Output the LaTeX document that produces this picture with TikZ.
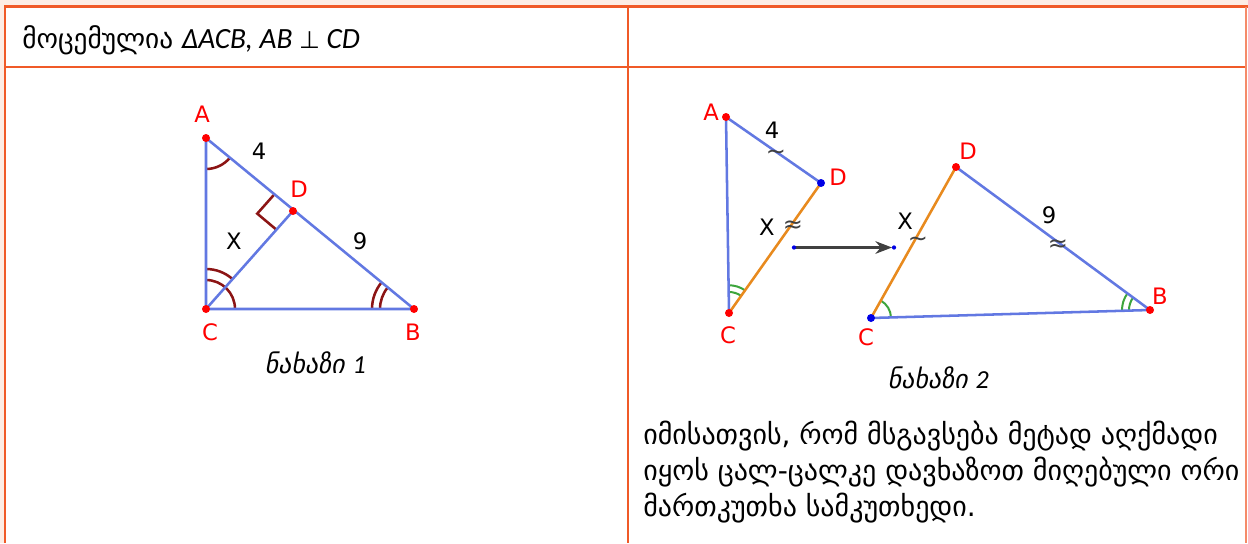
\documentclass[tikz,border=0pt]{standalone}
\usepackage{fontspec}
\setmainfont{DejaVu Sans}
\newfontfamily\latinfont{Carlito}
\newfontfamily\geoslant[FakeSlant=0.2]{DejaVu Sans}
\usetikzlibrary{angles,arrows.meta,calc}
\definecolor{framecol}{RGB}{240,90,40}
\definecolor{pinkbg}{RGB}{253,237,229}
\definecolor{segblue}{RGB}{98,120,226}
\definecolor{segorange}{RGB}{232,138,30}
\definecolor{markred}{RGB}{140,20,20}
\definecolor{markgreen}{RGB}{60,165,60}
\definecolor{arrowgray}{RGB}{64,64,64}
\definecolor{dotblue}{RGB}{0,0,230}
\begin{document}
\begin{tikzpicture}[x=0.75pt,y=-0.75pt,
  seg/.style={draw=segblue,line width=1.9pt},
  segx/.style={draw=segorange,line width=1.9pt},
  redmark/.style={draw=markred,line width=1.9pt},
  greenmark/.style={draw=markgreen,line width=1.5pt},
  ptname/.style={text=red,font=\fontsize{17}{20}\selectfont},
  lenname/.style={inner sep=0pt,font=\fontsize{17}{20}\selectfont},
  simsign/.style={inner sep=0pt,text=arrowgray,font=\fontsize{18}{20}\selectfont},
  figcap/.style={font=\geoslant\fontsize{19.5}{23}\selectfont},
  bodytext/.style={anchor=base west,inner sep=0pt,font=\fontsize{21}{25}\selectfont},
]
% page and table frame
\fill[white] (0,0) rectangle (1248,543);
\fill[pinkbg] (0,0) rectangle (1248,5.5);
\fill[pinkbg] (0,0) rectangle (3.5,543);
\useasboundingbox (0,0) rectangle (1248,543);
\draw[framecol,line width=2pt] (5,543) -- (5,6.5) -- (1248,6.5);
\draw[framecol,line width=2pt] (5,67) -- (1246,67);
\draw[framecol,line width=2.2pt] (628,6.5) -- (628,543);
\draw[framecol!70,line width=1pt] (1246,6.5) -- (1246,543);

\node[bodytext,font=\fontsize{20.5}{24}\selectfont] (given) at (22,48) {მოცემულია {\latinfont\fontsize{22}{26}\selectfont\itshape ΔACB, AB }{\fontsize{18}{22}\selectfont ⊥}{\latinfont\fontsize{22}{26}\selectfont\itshape{} CD}};

% figure 1
\coordinate (A) at (206,138);
\coordinate (C) at (206,309);
\coordinate (B) at (414,309);
\coordinate (D) at (293,211);
\pic[redmark,angle radius=23.25pt] {angle=C--A--B};
\pic[redmark,angle radius=21.75pt] {angle=B--C--A};
\pic[redmark,angle radius=30pt] {angle=D--C--A};
\pic[redmark,angle radius=25.5pt] {angle=A--B--C};
\pic[redmark,angle radius=31.5pt] {angle=A--B--C};
\coordinate (Da) at ($(D)!18.75pt!(A)$);
\coordinate (Dc) at ($(D)!18.75pt!(C)$);
\draw[redmark] (Da) -- ($(Da)+(Dc)-(D)$) -- (Dc);
\draw[seg] (A) -- (B) -- (C) -- cycle;
\draw[seg] (C) -- (D);
\foreach \p in {A,B,C,D} \fill[red] (\p) circle (3pt);
\node[ptname] (labA) at (202,114) {A};
\node[ptname] (labD) at (299,189) {D};
\node[ptname] (labC) at (210,332) {C};
\node[ptname] (labB) at (413,332) {B};
\node[lenname] (len4) at (259,151) {4};
\node[lenname] (len9) at (360,241) {9};
\node[lenname] (lenX) at (234,241) {X};
\node[figcap] (cap1) at (315,363) {ნახაზი {\latinfont\itshape 1}};

% figure 2, left triangle
\coordinate (A2) at (726,117);
\coordinate (D2) at (821,183);
\coordinate (C2) at (729,313);
\pic[greenmark,angle radius=15.75pt] {angle=D2--C2--A2};
\pic[greenmark,angle radius=20.8pt] {angle=D2--C2--A2};
\draw[seg] (D2) -- (A2) -- (C2);
\draw[segx] (C2) -- (D2);
\fill[red] (A2) circle (3pt);
\fill[red] (C2) circle (3pt);
\fill[dotblue] (D2) circle (3pt);
\node[ptname] (labA2) at (711,112) {A};
\node[ptname] (labD2) at (838,177) {D};
\node[ptname] (labC2) at (728,335) {C};
\node[lenname] (len4b) at (772,130) {4};
\node[lenname] (lenXb) at (767,227) {X};
\node[simsign] (simA) at (776,155) {∼};
\node[simsign] (simB) at (793,227) {≈};

% moving arrow
\coordinate (P) at (794,247.5);
\coordinate (Q) at (894,247.5);
\draw[arrowgray,line width=1.6pt,-{Stealth[length=12.5pt,width=9.5pt]},shorten >=1.5pt] (P) -- (Q);
\fill[dotblue] (P) circle (1.6pt);
\fill[dotblue] (Q) circle (1.6pt);

% figure 2, right triangle
\coordinate (C3) at (871,318);
\coordinate (D3) at (956,167);
\coordinate (B3) at (1150,310);
\pic[greenmark,angle radius=15pt] {angle=B3--C3--D3};
\pic[greenmark,angle radius=15.75pt] {angle=D3--B3--C3};
\pic[greenmark,angle radius=21pt] {angle=D3--B3--C3};
\draw[seg] (D3) -- (B3) -- (C3);
\draw[segx] (C3) -- (D3);
\fill[dotblue] (C3) circle (3pt);
\fill[red] (D3) circle (3pt);
\fill[red] (B3) circle (3pt);
\node[ptname] (labC3) at (866,337) {C};
\node[ptname] (labD3) at (968,151) {D};
\node[ptname] (labB3) at (1160,296) {B};
\node[lenname] (lenXc) at (905,221) {X};
\node[lenname] (len9c) at (1049,215) {9};
\node[simsign] (simC) at (918,242) {∼};
\node[simsign] (simD) at (1058,246) {≈};
\node[figcap] (cap2) at (938,378) {ნახაზი {\latinfont\itshape 2}};

% note
\node[bodytext] (note1) at (643,444) {იმისათვის, რომ მსგავსება მეტად აღქმადი};
\node[bodytext] (note2) at (643,480) {იყოს ცალ-ცალკე დავხაზოთ მიღებული ორი};
\node[bodytext] (note3) at (643,516) {მართკუთხა სამკუთხედი.};
\end{tikzpicture}
\end{document}
